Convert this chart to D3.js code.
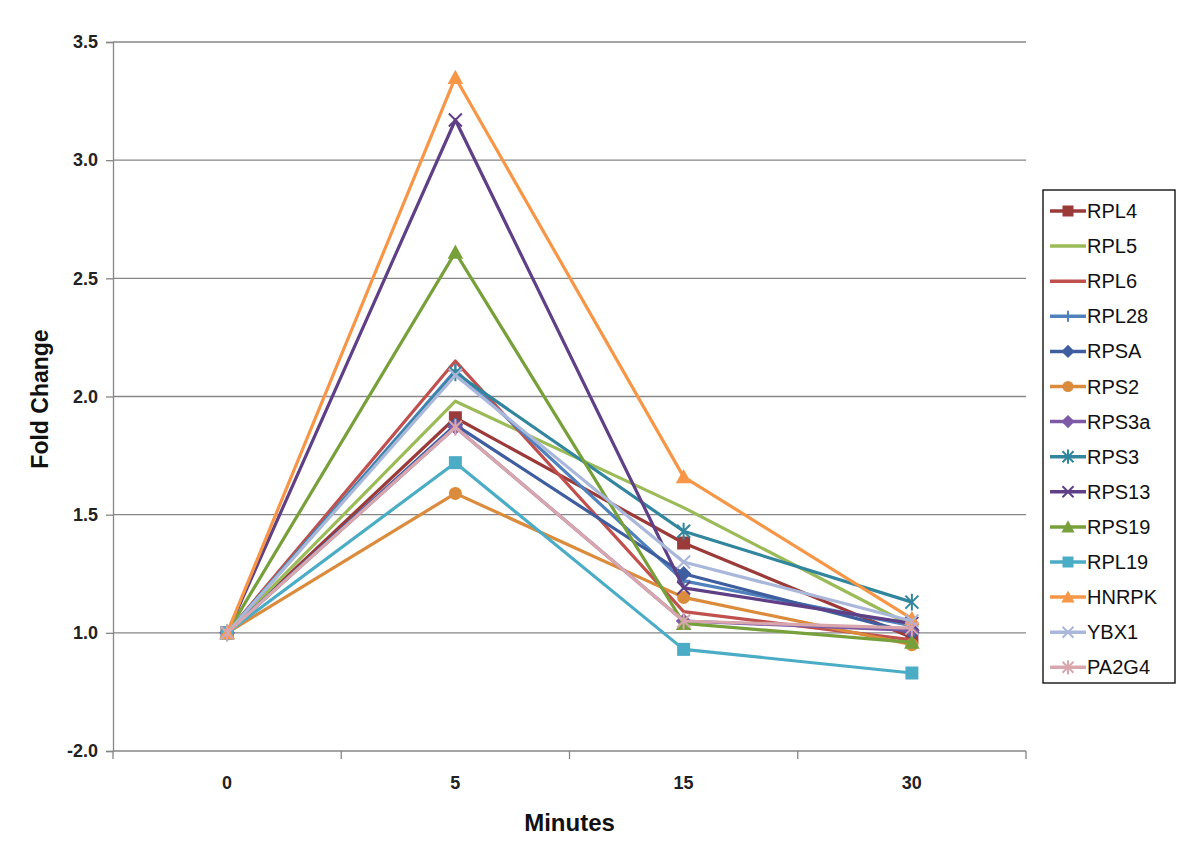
<!DOCTYPE html>
<html>
<head>
<meta charset="utf-8">
<script src="https://cdn.jsdelivr.net/npm/d3@7"></script>
<style>
  body { margin: 0; background: #fff; }
  text { font-family: "Liberation Sans", Arial, sans-serif; }
</style>
</head>
<body>
<div class="canvas"></div>
<script>
// categories and tick labels
const minutes = ['0', '5', '15', '30'];
const yTicks = [0.5, 1.0, 1.5, 2.0, 2.5, 3.0, 3.5];
const yTickLabels = ['-2.0', '1.0', '1.5', '2.0', '2.5', '3.0', '3.5'];

// series values (fold change at 0, 5, 15, 30 min)
const RPL4  = [1.0, 1.91, 1.38, 0.98];
const RPL5  = [1.0, 1.98, 1.53, 1.03];
const RPL6  = [1.0, 2.15, 1.09, 0.97];
const RPL28 = [1.0, 2.11, 1.22, 1.03];
const RPSA  = [1.0, 1.88, 1.25, 1.00];
const RPS2  = [1.0, 1.59, 1.15, 0.95];
const RPS3a = [1.0, 1.87, 1.05, 1.01];
const RPS3  = [1.0, 2.10, 1.43, 1.13];
const RPS13 = [1.0, 3.17, 1.19, 1.04];
const RPS19 = [1.0, 2.61, 1.04, 0.96];
const RPL19 = [1.0, 1.72, 0.93, 0.83];
const HNRPK = [1.0, 3.35, 1.66, 1.06];
const YBX1  = [1.0, 2.09, 1.30, 1.05];
const PA2G4 = [1.0, 1.87, 1.05, 1.02];

const seriesNames = ['RPL4', 'RPL5', 'RPL6', 'RPL28', 'RPSA', 'RPS2', 'RPS3a',
  'RPS3', 'RPS13', 'RPS19', 'RPL19', 'HNRPK', 'YBX1', 'PA2G4'];
const seriesValues = [RPL4, RPL5, RPL6, RPL28, RPSA, RPS2, RPS3a,
  RPS3, RPS13, RPS19, RPL19, HNRPK, YBX1, PA2G4];

// style per series
const colors = ['#9b3b39', '#9bbb59', '#c0504d', '#4f81bd', '#3f5ea0', '#db8b3c', '#7d5aa6',
  '#31869e', '#5f3f86', '#77a03b', '#4bacc6', '#f79646', '#a9b7da', '#d7a7ad'];
const markers = ['square', 'none', 'none', 'plus', 'diamond', 'circle', 'diamond',
  'star', 'x', 'triangle', 'square', 'triangle', 'x', 'star'];

const series = seriesNames.map((name, i) => ({
  name: name,
  color: colors[i],
  marker: markers[i],
  values: seriesValues[i].map((v, j) => ({min: minutes[j], value: v}))
}));

const margin = {top: 42, right: 174, bottom: 102, left: 113};
const width = 1200, height = 853;
const graphWidth = width - margin.left - margin.right;
const graphHeight = height - margin.top - margin.bottom;

const svg = d3.select('.canvas')
  .append('svg')
  .attr('width', width)
  .attr('height', height);

const graph = svg.append('g')
  .attr('transform', `translate(${margin.left}, ${margin.top})`);

// scales
const x = d3.scaleBand().domain(minutes).range([0, graphWidth]);
const y = d3.scaleLinear().domain([0.5, 3.5]).range([graphHeight, 0]);
const cx = d => x(d) + x.bandwidth() / 2;

// gridlines
graph.append('g')
  .selectAll('line')
  .data(yTicks.slice(1))
  .join('line')
  .attr('x1', 0).attr('x2', graphWidth)
  .attr('y1', d => y(d)).attr('y2', d => y(d))
  .attr('stroke', '#868686')
  .attr('stroke-width', 1.3);

// y axis
const yAxis = d3.axisLeft(y)
  .tickValues(yTicks)
  .tickSize(7)
  .tickFormat((d, i) => yTickLabels[i]);

const yAxisGroup = graph.append('g').call(yAxis);
yAxisGroup.select('.domain').attr('stroke', '#868686').attr('stroke-width', 1.3);
yAxisGroup.selectAll('.tick line').attr('stroke', '#868686').attr('stroke-width', 1.3);
yAxisGroup.selectAll('.tick text')
  .attr('x', -15)
  .attr('font-size', 18)
  .attr('font-weight', 'bold')
  .attr('fill', '#222');

// x axis: ticks at band edges
const xAxisGroup = graph.append('g')
  .attr('transform', `translate(0, ${graphHeight})`);
xAxisGroup.append('line')
  .attr('x1', 0).attr('x2', graphWidth)
  .attr('stroke', '#868686').attr('stroke-width', 1.3);
xAxisGroup.selectAll('.edge')
  .data(minutes.concat(['end']))
  .join('line')
  .attr('class', 'edge')
  .attr('x1', (d, i) => i * x.step()).attr('x2', (d, i) => i * x.step())
  .attr('y1', 0).attr('y2', 8)
  .attr('stroke', '#868686').attr('stroke-width', 1.3);
xAxisGroup.selectAll('.lbl')
  .data(minutes)
  .join('text')
  .attr('class', 'lbl')
  .attr('x', d => cx(d))
  .attr('y', 38)
  .attr('text-anchor', 'middle')
  .attr('font-size', 18)
  .attr('font-weight', 'bold')
  .attr('fill', '#222')
  .text(d => d);

// axis titles
svg.append('text')
  .attr('x', margin.left + graphWidth / 2)
  .attr('y', 831)
  .attr('text-anchor', 'middle')
  .attr('font-size', 24)
  .attr('font-weight', 'bold')
  .attr('fill', '#111')
  .text('Minutes');

svg.append('text')
  .attr('transform', 'translate(48, 399) rotate(-90)')
  .attr('text-anchor', 'middle')
  .attr('font-size', 23)
  .attr('font-weight', 'bold')
  .attr('fill', '#111')
  .text('Fold Change');

// marker drawing
const drawMarker = (sel, type, color, size) => {
  const s = size;
  if (type === 'square') {
    sel.append('rect').attr('x', -s).attr('y', -s).attr('width', 2 * s).attr('height', 2 * s).attr('fill', color);
  } else if (type === 'circle') {
    sel.append('circle').attr('r', s).attr('fill', color);
  } else if (type === 'diamond') {
    sel.append('path').attr('d', `M0,${-s * 1.2}L${s * 1.2},0L0,${s * 1.2}L${-s * 1.2},0Z`).attr('fill', color);
  } else if (type === 'triangle') {
    sel.append('path').attr('d', `M0,${-s * 1.2}L${s * 1.2},${s}L${-s * 1.2},${s}Z`).attr('fill', color);
  } else if (type === 'plus') {
    sel.append('path').attr('d', `M${-s},0H${s}M0,${-s}V${s}`).attr('stroke', color).attr('stroke-width', 2);
  } else if (type === 'x') {
    sel.append('path').attr('d', `M${-s},${-s}L${s},${s}M${-s},${s}L${s},${-s}`).attr('stroke', color).attr('stroke-width', 2);
  } else if (type === 'star') {
    sel.append('path').attr('d', `M${-s},${-s}L${s},${s}M${-s},${s}L${s},${-s}M0,${-s * 1.3}V${s * 1.3}`)
      .attr('stroke', color).attr('stroke-width', 2);
  }
};

// lines
const line = d3.line()
  .x(d => cx(d.min))
  .y(d => y(d.value));

const seriesGroups = graph.append('g')
  .selectAll('g')
  .data(series)
  .join('g');

seriesGroups.append('path')
  .attr('fill', 'none')
  .attr('stroke', d => d.color)
  .attr('stroke-width', 3.2)
  .attr('stroke-linejoin', 'round')
  .attr('d', d => line(d.values));

seriesGroups.each(function (d) {
  const g = d3.select(this);
  d.values.forEach(p => {
    const m = g.append('g').attr('transform', `translate(${cx(p.min)}, ${y(p.value)})`);
    drawMarker(m, d.marker, d.color, 6.5);
  });
});

// legend
const legend = svg.append('g')
  .attr('transform', 'translate(1043, 190)');

legend.append('rect')
  .attr('width', 132).attr('height', 493)
  .attr('fill', '#fff')
  .attr('stroke', '#000')
  .attr('stroke-width', 1.3);

const legendItems = legend.selectAll('.item')
  .data(series)
  .join('g')
  .attr('class', 'item')
  .attr('transform', (d, i) => `translate(0, ${21 + i * 35.1})`);

legendItems.append('line')
  .attr('x1', 7).attr('x2', 43)
  .attr('stroke', d => d.color)
  .attr('stroke-width', 3.5);

legendItems.each(function (d) {
  const m = d3.select(this).append('g').attr('transform', 'translate(25, 0)');
  drawMarker(m, d.marker, d.color, 5.5);
});

legendItems.append('text')
  .attr('x', 44)
  .attr('y', 7)
  .attr('font-size', 20)
  .attr('fill', '#111')
  .text(d => d.name);
</script>
</body>
</html>
